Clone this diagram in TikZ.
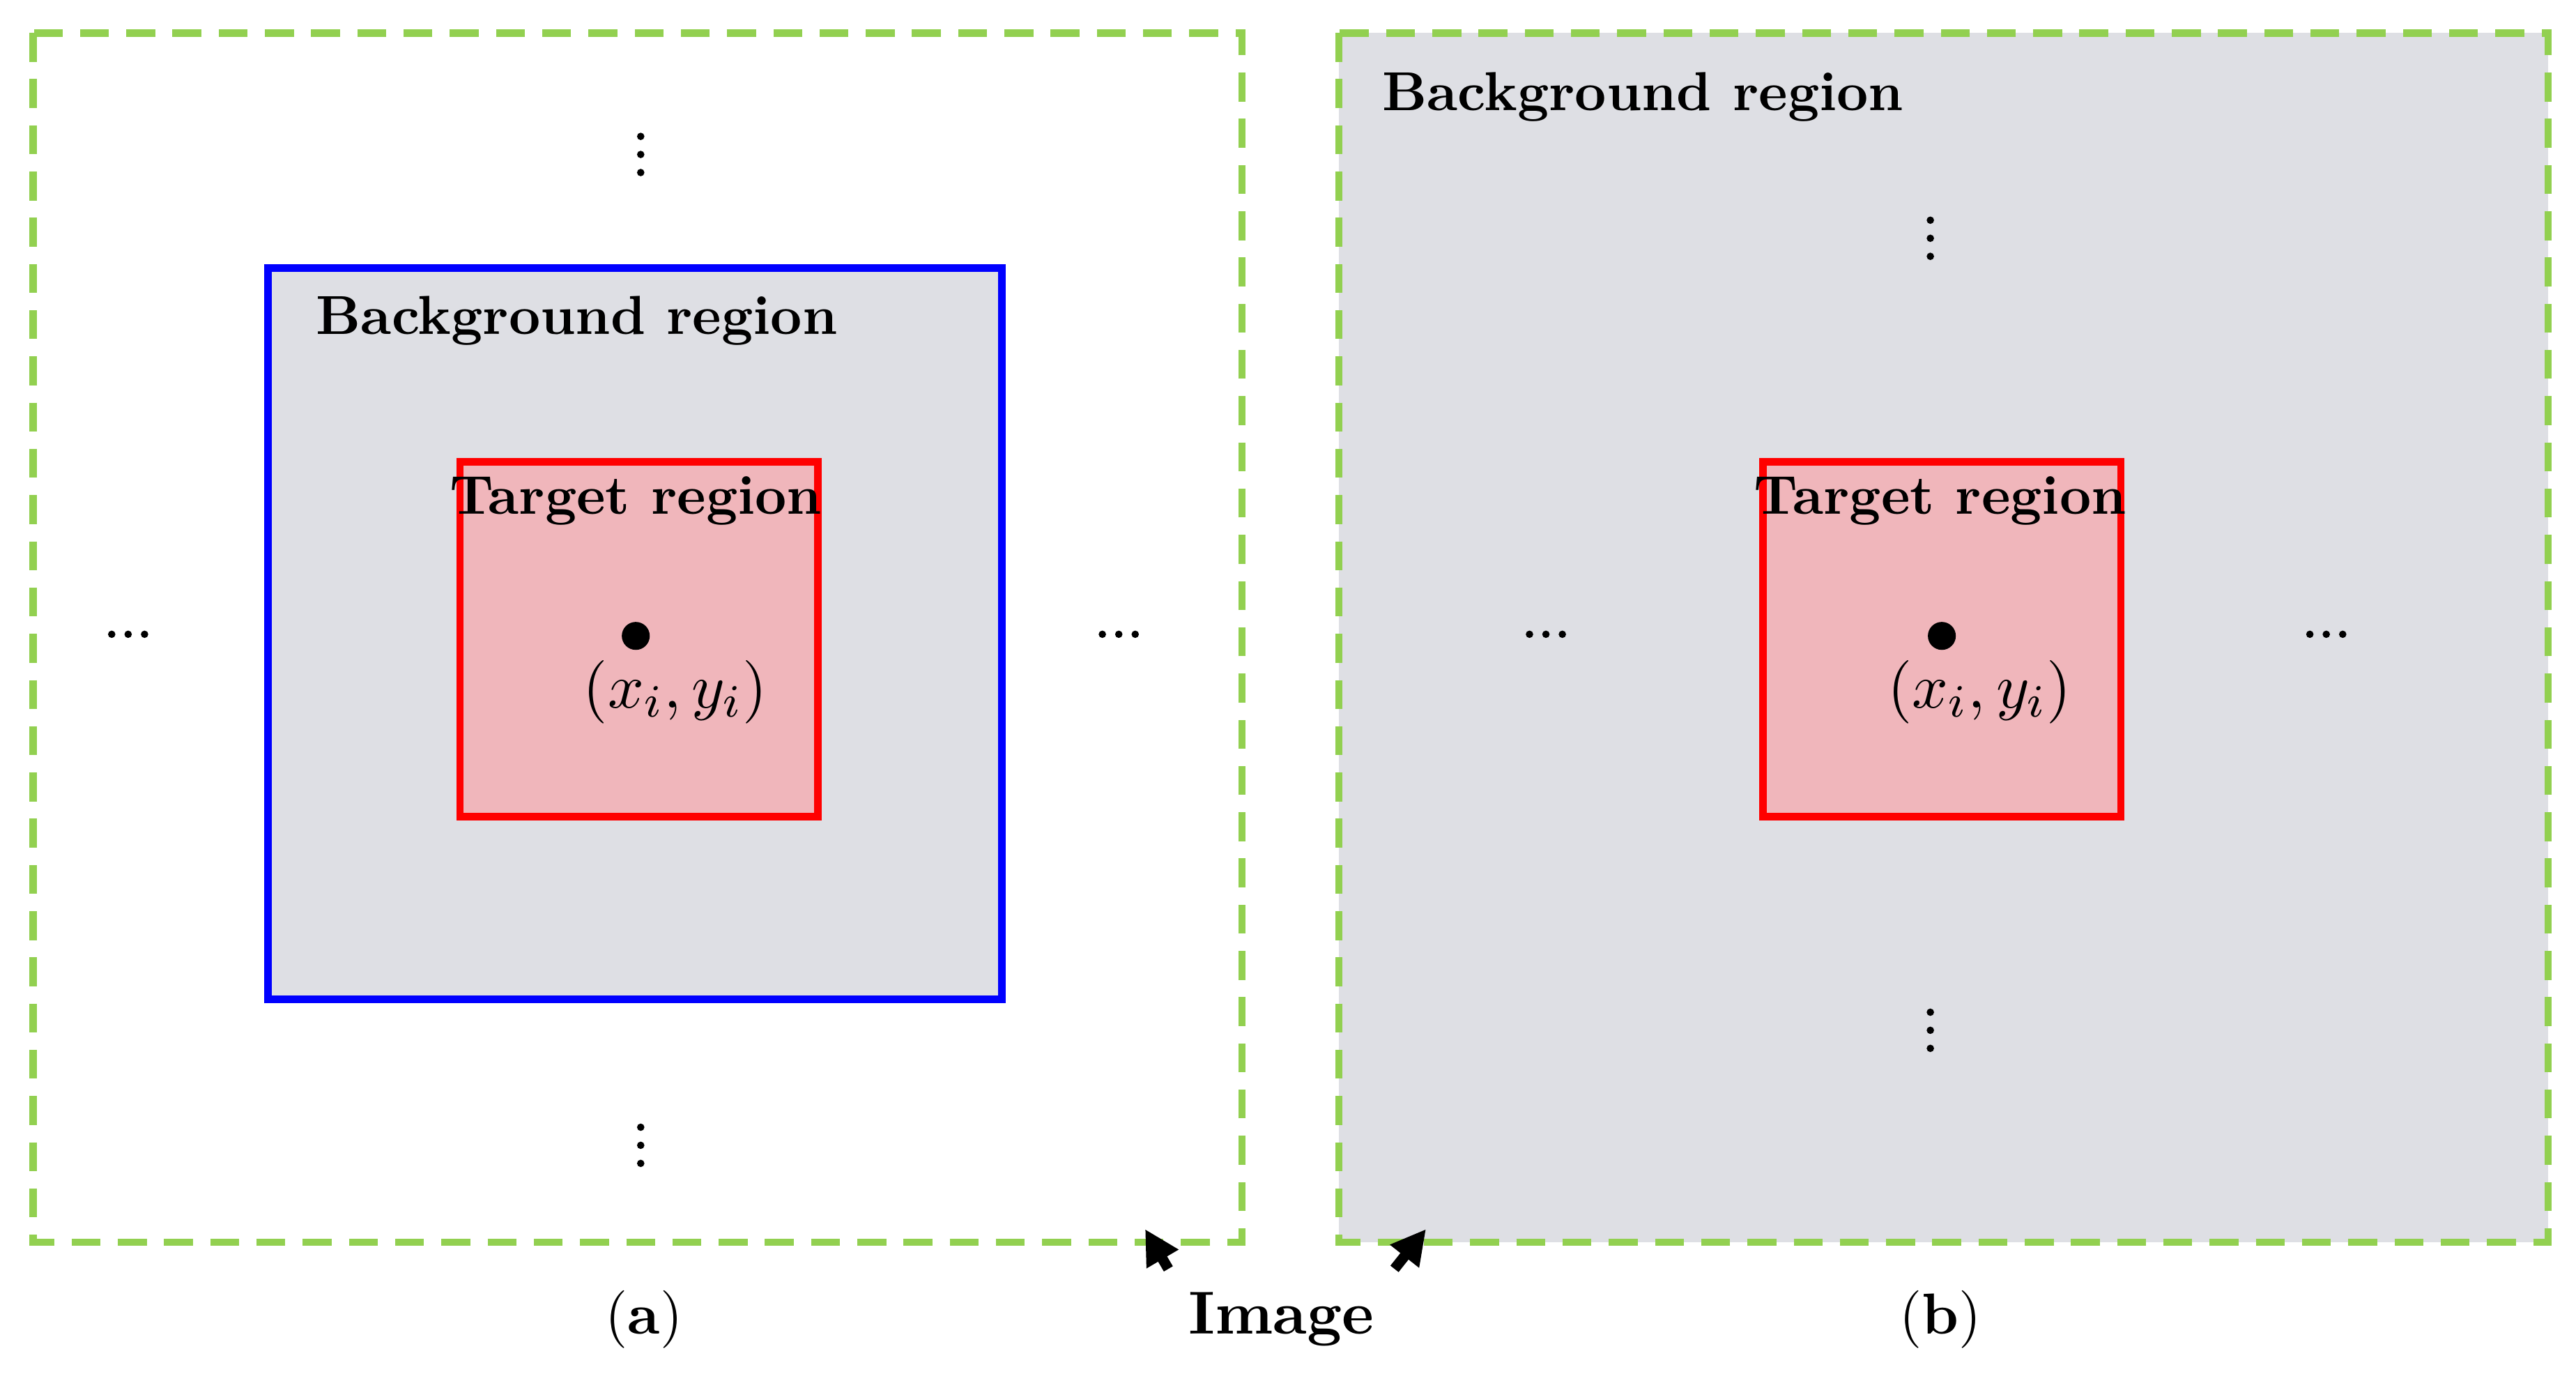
\documentclass[tikz,border=0pt]{standalone}
\usetikzlibrary{arrows.meta}
\definecolor{imggreen}{RGB}{146,208,80}
\definecolor{bggray}{RGB}{222,223,228}
\definecolor{tpink}{RGB}{240,182,187}
\definecolor{tred}{RGB}{255,0,0}
\definecolor{bblue}{RGB}{0,0,255}
\begin{document}
\begin{tikzpicture}[x=0.01cm,y=-0.01cm,
  img/.style={draw=imggreen,line width=1.3pt,dash pattern=on 5pt off 3pt},
  bg/.style={draw=bblue,fill=bggray,line width=1.3pt},
  tg/.style={draw=tred,fill=tpink,line width=1.3pt},
  lab/.style={font=\bfseries\fontsize{9.5}{11}\selectfont},
  captxt/.style={font=\fontsize{10}{12}\selectfont},
  pt/.style={fill=black,circle,inner sep=0pt,minimum size=0.17cm},
  dt/.style={fill=black,circle,inner sep=0pt,minimum size=0.045cm},
  arr/.style={-{Triangle[length=6pt,width=6pt]},line width=1.8pt}]
\useasboundingbox (0,0) rectangle (1568,836);
% left panel
\draw[img] (20,20) rectangle (756,756);
\draw[bg] (163,163) rectangle (610,608);
\draw[tg] (280,281) rectangle (498,497);
\node[lab,anchor=west] (bgA) at (180,195) {Background region};
\node[lab] (tgA) at (387,305) {Target region};
\node[pt] (pA) at (387,387) {};
\node[font=\fontsize{11}{13}\selectfont] (xyA) at (411,421) {$(x_i,y_i)$};
\foreach \y in {83,94,105} \node[dt] at (390,\y) {};
\foreach \y in {686,697,708} \node[dt] at (390,\y) {};
\foreach \x in {68,78,88} \node[dt] at (\x,386) {};
\foreach \x in {671,681,691} \node[dt] at (\x,386) {};
% right panel
\draw[img,fill=bggray] (815,20) rectangle (1551,756);
\draw[tg] (1073,281) rectangle (1291,497);
\node[lab,anchor=west] (bgB) at (829,59) {Background region};
\node[lab] (tgB) at (1181,305) {Target region};
\node[pt] (pB) at (1182,387) {};
\node[font=\fontsize{11}{13}\selectfont] (xyB) at (1205,421) {$(x_i,y_i)$};
\foreach \y in {134,145,156} \node[dt] at (1175,\y) {};
\foreach \y in {616,627,638} \node[dt] at (1175,\y) {};
\foreach \x in {931,941,951} \node[dt] at (\x,386) {};
\foreach \x in {1406,1416,1426} \node[dt] at (\x,386) {};
% captions
\node[captxt] (ca) at (392,803) {(\textbf{a})};
\node[captxt] (cb) at (1181,803) {(\textbf{b})};
\node[lab,font=\bfseries\fontsize{10.5}{12}\selectfont] (im) at (780,803) {Image};
\coordinate (tA) at (697,748);
\coordinate (tB) at (868,748);
\draw[arr] (im.north west)++(0,-2) -- (tA);
\draw[arr] (im.north east)++(0,-2) -- (tB);
\end{tikzpicture}
\end{document}
